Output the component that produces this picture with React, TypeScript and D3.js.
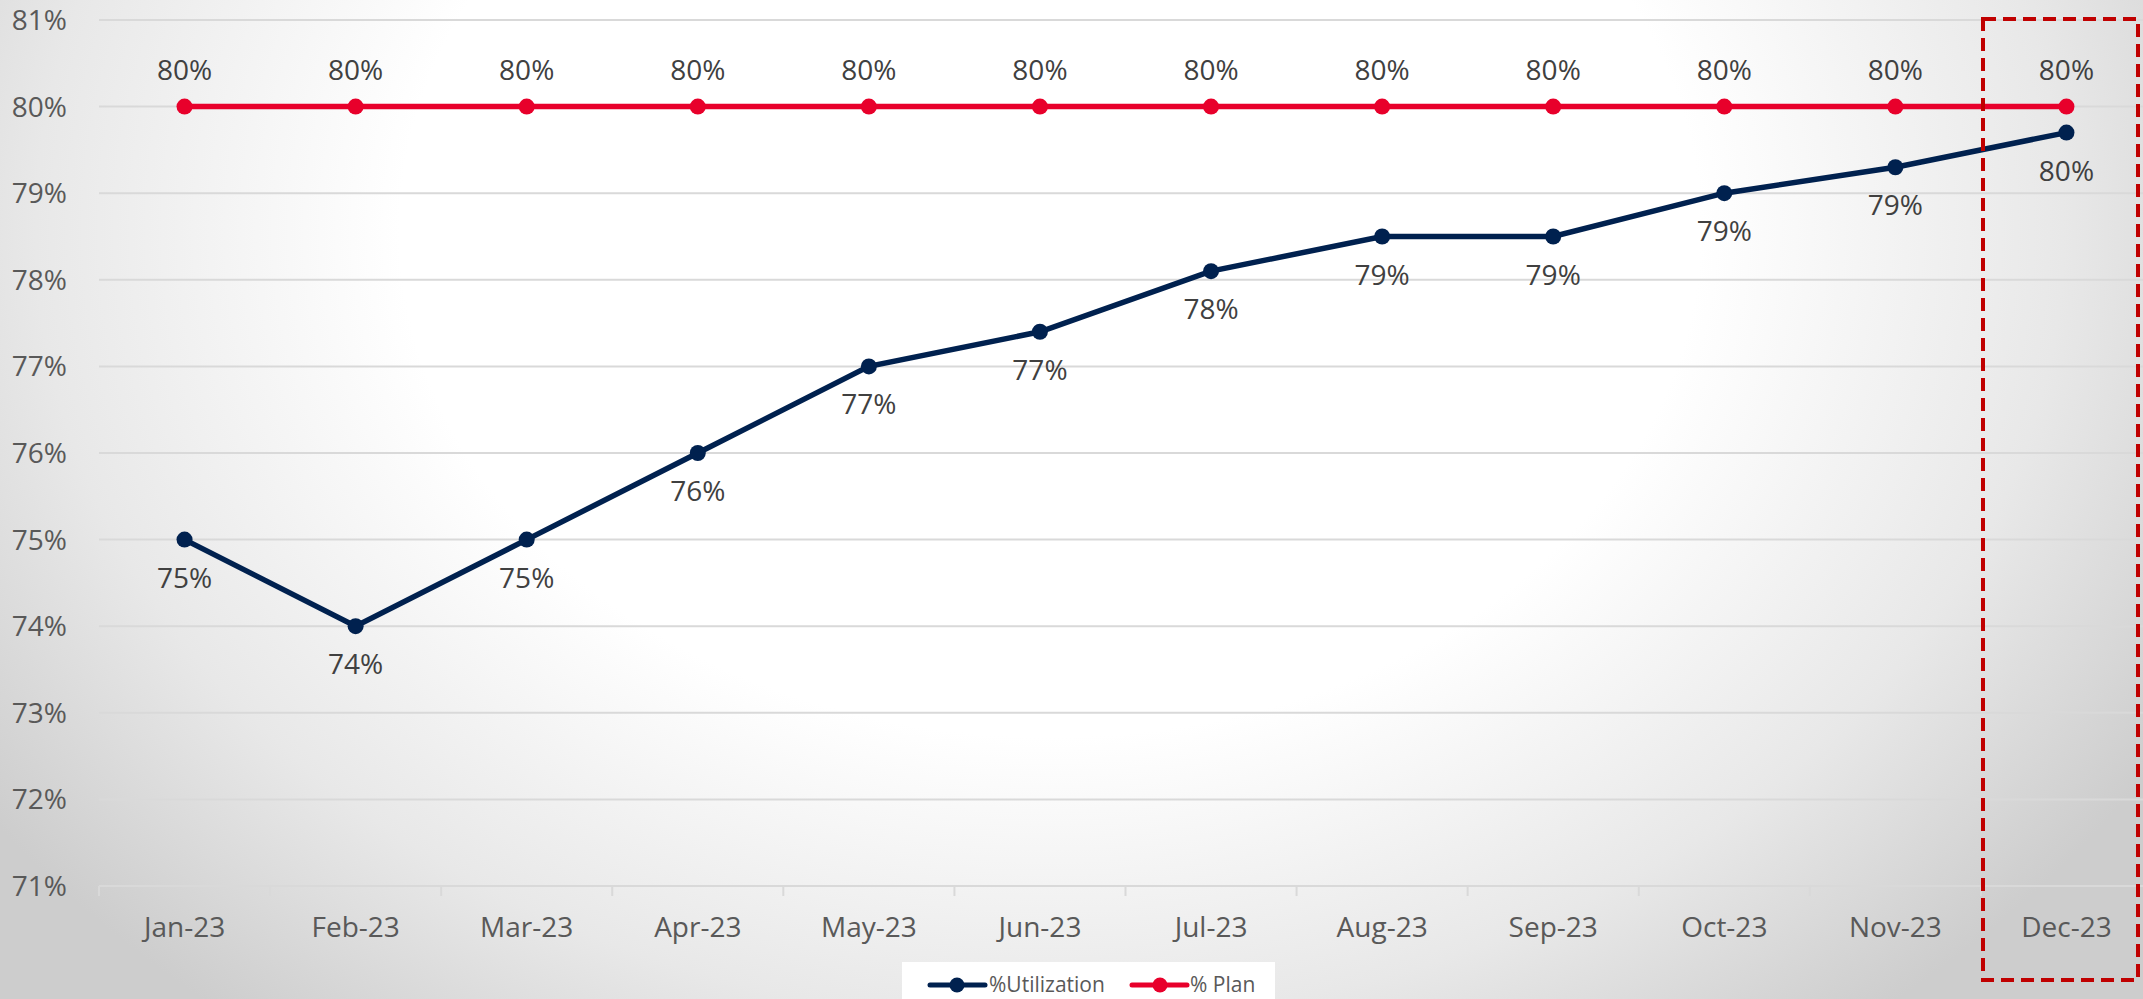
import React from "react";
import * as d3 from "d3";

const months = ["Jan-23","Feb-23","Mar-23","Apr-23","May-23","Jun-23","Jul-23","Aug-23","Sep-23","Oct-23","Nov-23","Dec-23"];
const utilization = [75, 74, 75, 76, 77, 77.4, 78.1, 78.5, 78.5, 79, 79.3, 79.7];
const plan = [80, 80, 80, 80, 80, 80, 80, 80, 80, 80, 80, 80];
const yTicks = [71, 72, 73, 74, 75, 76, 77, 78, 79, 80, 81];

const W = 2143, H = 999;
const FONT = "'Open Sans', sans-serif";
const TXT = "#595959";
const LBL = "#404040";
const NAVY = "#00214F";
const RED = "#E8002B";

export default function App() {
  const x = d3.scaleBand<string>().domain(months).range([99, 2152]);
  const y = d3.scaleLinear().domain([71, 81]).range([886, 20]);
  const cx = (m: string) => (x(m) as number) + x.bandwidth() / 2;
  const line = d3.line<number>().x((_, i) => cx(months[i])).y((v) => y(v));

  return (
    <svg width={W} height={H} style={{ position: "absolute", left: 0, top: 0 }} fontFamily={FONT}>
      <defs>
        <radialGradient id="bg" gradientUnits="userSpaceOnUse" cx={1050} cy={230} r={1300} gradientTransform="translate(1050 230) scale(1 0.78) translate(-1050 -230)">
          <stop offset="0" stopColor="#ffffff" />
          <stop offset="0.5" stopColor="#ffffff" />
          <stop offset="0.78" stopColor="#e8e8e8" />
          <stop offset="1" stopColor="#cdcdcd" />
        </radialGradient>
      </defs>
      <rect x={0} y={0} width={W} height={H} fill="url(#bg)" />
      {yTicks.map((t) => (
        <g key={t}>
          <line x1={99} x2={2152} y1={y(t)} y2={y(t)} stroke="#d9d9d9" strokeWidth={2} />
          <text x={67} y={y(t) + 10} textAnchor="end" fontSize={28} fill={TXT}>{t}%</text>
        </g>
      ))}
      {months.map((m, i) => (
        <line key={"tk" + i} x1={(x(m) as number)} x2={(x(m) as number)} y1={y(71)} y2={y(71) + 10} stroke="#d9d9d9" strokeWidth={2} />
      ))}
      {months.map((m) => (
        <text key={"xl" + m} x={cx(m)} y={937} textAnchor="middle" fontSize={28} fill={TXT}>{m}</text>
      ))}
      <path d={line(plan) || ""} fill="none" stroke={RED} strokeWidth={5.5} />
      <path d={line(utilization) || ""} fill="none" stroke={NAVY} strokeWidth={5.5} />
      {plan.map((v, i) => (
        <g key={"p" + i}>
          <circle cx={cx(months[i])} cy={y(v)} r={8} fill={RED} />
          <text x={cx(months[i])} y={y(v) - 27} textAnchor="middle" fontSize={28} fill={LBL}>{Math.round(v)}%</text>
        </g>
      ))}
      {utilization.map((v, i) => (
        <g key={"u" + i}>
          <circle cx={cx(months[i])} cy={y(v)} r={8} fill={NAVY} />
          <text x={cx(months[i])} y={y(v) + 48} textAnchor="middle" fontSize={28} fill={LBL}>{Math.round(v)}%</text>
        </g>
      ))}
      <rect x={1983} y={19} width={155} height={961} fill="none" stroke="#C00000" strokeWidth={4} strokeDasharray="13 7" />
      <rect x={902} y={962} width={373} height={40} fill="#ffffff" />
      <line x1={930} x2={985} y1={985} y2={985} stroke={NAVY} strokeWidth={5} strokeLinecap="round" />
      <circle cx={957} cy={985} r={7.5} fill={NAVY} />
      <text x={989} y={992} fontSize={21} fill={TXT}>%Utilization</text>
      <line x1={1132} x2={1187} y1={985} y2={985} stroke={RED} strokeWidth={5} strokeLinecap="round" />
      <circle cx={1160} cy={985} r={7.5} fill={RED} />
      <text x={1190} y={992} fontSize={21} fill={TXT}>% Plan</text>
    </svg>
  );
}
